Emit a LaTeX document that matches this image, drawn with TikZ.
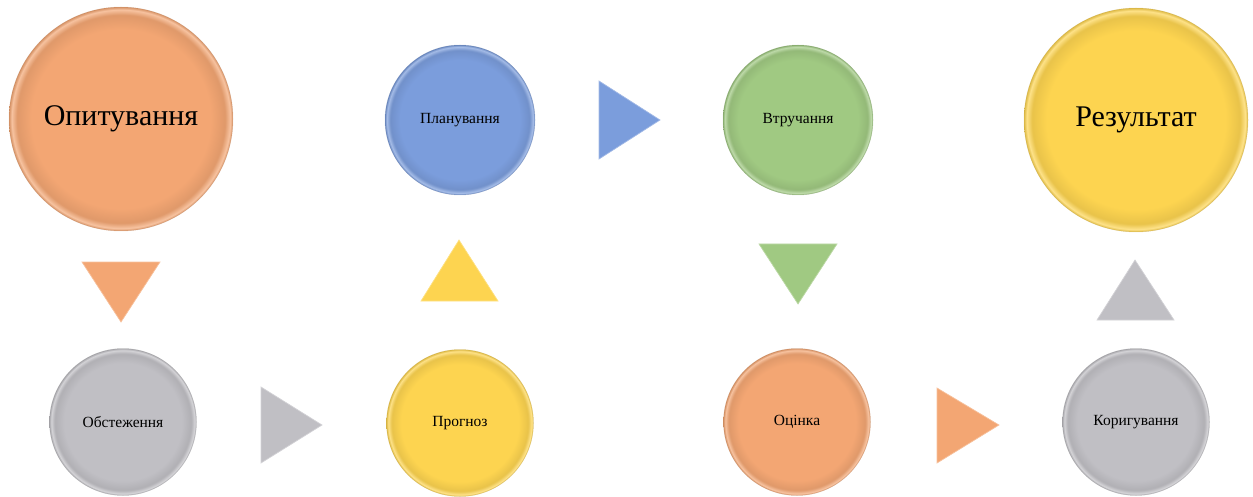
\documentclass[tikz,border=0pt]{standalone}
\usepackage{fontspec}
\setmainfont{Liberation Serif}
\definecolor{corange}{RGB}{243,166,115}
\definecolor{cblue}{RGB}{123,157,220}
\definecolor{cgreen}{RGB}{160,201,130}
\definecolor{cyellow}{RGB}{253,212,80}
\definecolor{cgray}{RGB}{192,191,196}
\newcommand\mkballshade[1]{\pgfdeclareradialshading{sh#1}{\pgfpoint{0bp}{0bp}}{color(0bp)=(#1); color(20bp)=(#1); color(23.2bp)=(#1!92!black); color(24.4bp)=(#1!68!white); color(25bp)=(#1!88!black); color(50bp)=(#1!88!black)}}
\mkballshade{corange}
\mkballshade{cblue}
\mkballshade{cgreen}
\mkballshade{cyellow}
\mkballshade{cgray}
\tikzset{
  bubble/.style={circle, shade, shading=sh#1, draw=#1!70!black, draw opacity=0.3, line width=0.5pt, inner sep=0pt, text=black},
  bigball/.style={minimum size=224pt, font=\fontsize{30}{36}\selectfont},
  midball/.style={minimum size=150pt, font=\fontsize{15.5}{18}\selectfont},
  smallball/.style={minimum size=147pt, font=\fontsize{15.5}{18}\selectfont},
  tri/.style={fill=#1, draw=#1!70!white, line width=0.7pt, line join=miter}
}
\begin{document}
\begin{tikzpicture}[x=1pt, y=-1pt]
\useasboundingbox (0,0) rectangle (1253,497);
% circles
\node[bubble=corange, bigball] (op) at (121,119) {Опитування};
\node[bubble=cgray, smallball] (ob) at (123,422) {Обстеження};
\node[bubble=cyellow, smallball] (pr) at (460,423) {Прогноз};
\node[bubble=cblue, midball] (pl) at (460,120) {Планування};
\node[bubble=cgreen, midball] (vt) at (798,120) {Втручання};
\node[bubble=corange, smallball] (oc) at (797,422) {Оцінка};
\node[bubble=cgray, smallball] (ko) at (1136,422) {Коригування};
\node[bubble=cyellow, bigball] (re) at (1136,120) {Результат};
% triangles
\draw[tri=corange] (82,262) -- (160,262) -- (121,322) -- cycle;
\draw[tri=cgray] (261,387) -- (322,425) -- (261,463) -- cycle;
\draw[tri=cyellow] (421,301) -- (459,240) -- (498,301) -- cycle;
\draw[tri=cblue] (599,81) -- (660,120) -- (599,159) -- cycle;
\draw[tri=cgreen] (759,244) -- (837,244) -- (798,304) -- cycle;
\draw[tri=corange] (937,388) -- (999,425) -- (937,463) -- cycle;
\draw[tri=cgray] (1097,320) -- (1135,260) -- (1174,320) -- cycle;
\end{tikzpicture}
\end{document}
